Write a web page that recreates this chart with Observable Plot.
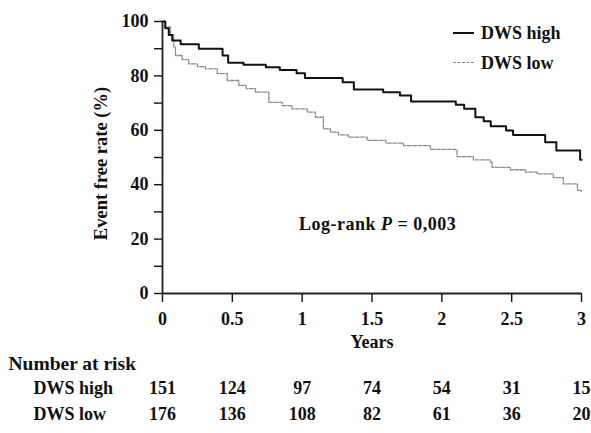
<!DOCTYPE html>
<html><head><meta charset="utf-8">
<script src="https://cdn.jsdelivr.net/npm/d3@7"></script>
<script src="https://cdn.jsdelivr.net/npm/@observablehq/plot@0.6"></script>
<style>
body{margin:0;background:#fff;}
#wrap{position:relative;width:591px;height:433px;font-family:"Liberation Serif","Times New Roman",serif;font-weight:bold;font-size:18px;color:#111;}
.ov{position:absolute;line-height:18px;white-space:nowrap;}
.sw{position:absolute;height:0;width:21px;}
</style></head><body><div id="wrap"></div>
<script>
// Kaplan–Meier curves (years, event free rate %)
const highTime = [0, 0.02, 0.045, 0.07, 0.13, 0.26, 0.43, 0.47, 0.58, 0.74, 0.84, 0.96, 1.02, 1.29, 1.37, 1.58, 1.70, 1.78, 2.10, 2.16, 2.24, 2.30, 2.35, 2.46, 2.51, 2.74, 2.82, 2.99, 3.0];
const highRate = [100, 97.5, 95, 93, 91.6, 90.0, 87.5, 84.8, 84.1, 83.2, 82.2, 81.0, 79.2, 77.7, 75.0, 74.0, 72.8, 70.6, 69.4, 67.9, 64.8, 63.3, 61.5, 59.9, 58.3, 55.6, 52.6, 49.2, 49.2];
const lowTime = [0, 0.007, 0.057, 0.081, 0.093, 0.14, 0.188, 0.25, 0.308, 0.392, 0.463, 0.546, 0.60, 0.666, 0.761, 0.857, 0.928, 1.036, 1.095, 1.152, 1.203, 1.26, 1.331, 1.465, 1.60, 1.725, 1.918, 2.097, 2.109, 2.226, 2.348, 2.36, 2.491, 2.60, 2.682, 2.799, 2.870, 2.971, 3.0];
const lowRate = [100, 98, 95, 90.6, 87.5, 86.0, 84.4, 83.4, 82.6, 80.8, 78.3, 76.5, 75.3, 74.0, 70.3, 69.1, 67.9, 66.7, 64.8, 60.5, 59.3, 58.3, 57.5, 56.3, 55.3, 54.4, 53.0, 52.8, 50.3, 49.1, 48.3, 46.4, 45.5, 44.6, 44.0, 42.6, 40.3, 37.9, 37.5];

const xTicks = [0, 0.5, 1, 1.5, 2, 2.5, 3];
const yTicks = [0, 20, 40, 60, 80, 100];
const yMinorTicks = [10, 30, 50, 70, 90];
const riskYears = [0, 0.5, 1, 1.5, 2, 2.5, 3];
const riskHigh = [151, 124, 97, 74, 54, 31, 15];
const riskLow = [176, 136, 108, 82, 61, 36, 20];
const groupNames = ["DWS high", "DWS low"];

const high = highTime.map((t, i) => ({t, s: highRate[i]}));
const low = lowTime.map((t, i) => ({t, s: lowRate[i]}));
const serif = "'Liberation Serif', 'Times New Roman', serif";

const chart = Plot.plot({
  width: 591, height: 433,
  marginLeft: 162, marginRight: 10, marginTop: 21, marginBottom: 140,
  style: {fontFamily: serif, fontSize: "18px", fontWeight: "bold", color: "#111", background: "transparent"},
  x: {domain: [0, 3]},
  y: {domain: [0, 100]},
  marks: [
    Plot.axisY({ticks: yTicks, tickSize: 8, tickPadding: 6, fontSize: 18, label: null, tickFormat: d => String(d), strokeWidth: 1.4}),
    Plot.axisY({ticks: yMinorTicks, tickSize: 8, label: null, tickFormat: () => "", strokeWidth: 1.4}),
    Plot.axisX({ticks: xTicks, tickSize: 9, tickPadding: 10, fontSize: 18, label: null, tickFormat: d => String(d), strokeWidth: 1.4}),
    Plot.ruleX([0], {y1: 0, y2: 100, stroke: "#222", strokeWidth: 1.8}),
    Plot.ruleY([0], {x1: 0, x2: 3, stroke: "#222", strokeWidth: 1.8}),
    Plot.line(low, {x: "t", y: "s", curve: "step-after", stroke: "#8c8c8c", strokeWidth: 1.3, strokeDasharray: "4 1.5"}),
    Plot.line(high, {x: "t", y: "s", curve: "step-after", stroke: "#111", strokeWidth: 2}),
    Plot.text(["Event free rate (%)"], {frameAnchor: "left", textAnchor: "middle", rotate: -90, dx: -61, dy: 6, fontSize: 18.5}),
    Plot.text(["Years"], {frameAnchor: "bottom", dy: 54, fontSize: 18}),
    Plot.text(["Number at risk"], {frameAnchor: "bottom-left", dx: -154, dy: 76, textAnchor: "start", fontSize: 19.5}),
    Plot.text([groupNames[0]], {frameAnchor: "bottom-left", dx: -129, dy: 100, textAnchor: "start", fontSize: 18}),
    Plot.text([groupNames[1]], {frameAnchor: "bottom-left", dx: -129, dy: 126, textAnchor: "start", fontSize: 18}),
    Plot.text(riskHigh, {x: (d, i) => riskYears[i], text: d => String(d), frameAnchor: "bottom", dy: 100, fontSize: 18}),
    Plot.text(riskLow, {x: (d, i) => riskYears[i], text: d => String(d), frameAnchor: "bottom", dy: 126, fontSize: 18})
  ]
});
const wrap = document.getElementById("wrap");
wrap.appendChild(chart);

// legend + annotation overlay
wrap.insertAdjacentHTML("beforeend", `
  <div class="sw" style="left:453px;top:32px;border-top:2px solid #111;"></div>
  <div class="ov" style="left:481px;top:24px;">${groupNames[0]}</div>
  <div class="sw" style="left:453px;top:62px;border-top:1.3px dashed #8c8c8c;"></div>
  <div class="ov" style="left:481px;top:54px;">${groupNames[1]}</div>
  <div class="ov" style="left:299px;top:215px;letter-spacing:0.5px;">Log-rank <i>P</i> = 0,003</div>
`);
</script>
</body></html>
